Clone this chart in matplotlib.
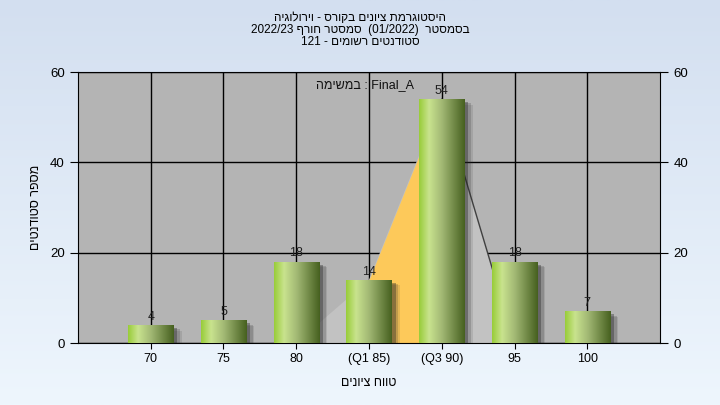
import numpy as np
import matplotlib
matplotlib.use("Agg")
import matplotlib.pyplot as plt
import matplotlib.patheffects as pe
from matplotlib.colors import LinearSegmentedColormap

plt.rcParams['font.family'] = ['Liberation Sans', 'DejaVu Sans']

# data
categories = ['70', '75', '80', '(Q1 85)', '(Q3 90)', '95', '100']
counts = [4, 5, 18, 14, 54, 18, 7]
# distribution shape behind the bars (category index, value)
shape_idx = [2, 3, 4, 5]
shape_val = [0, 14, 54, 0]
# inter-quartile part of it
iqr_idx = [3, 4]
iqr_val = [14, 54]


def heb(s):
    # matplotlib has no bidi, so flip hebrew runs by hand
    return s[::-1]


title_lines = [
    heb('היסטוגרמת ציונים בקורס - וירולוגיה'),
    '2022/23 ' + heb('סמסטר חורף') + '  (01/2022)  ' + heb('בסמסטר'),
    '121 - ' + heb('סטודנטים רשומים'),
]
task_label = heb('במשימה') + ' : Final_A'
xlabel = heb('טווח ציונים')
ylabel = heb('מספר סטודנטים')

fig = plt.figure(figsize=(7.2, 4.05), dpi=100)

# background gradient
bg = fig.add_axes([0, 0, 1, 1], zorder=-10)
grad = np.linspace(0, 1, 256).reshape(-1, 1)
bg_cmap = LinearSegmentedColormap.from_list('bg', ['#d3dff0', '#eef6fd'])
bg.imshow(grad, aspect='auto', cmap=bg_cmap, extent=[0, 1, 0, 1])
bg.axis('off')

ax = fig.add_axes([0.1083, 0.153, 0.8084, 0.669])
ax.set_facecolor('#b4b4b4')
x = np.arange(len(categories))

ax.set_xlim(-1, 7)
ax.set_ylim(0, 60)
ax.set_yticks([0, 20, 40, 60])
ax.set_xticks(x)
ax.set_xticklabels(categories, fontsize=9)
ax.tick_params(axis='y', labelsize=9.5, right=True, labelright=True, length=6, color='black')
ax.tick_params(axis='x', length=4)
ax.grid(True, color='black', linewidth=1)
ax.set_axisbelow(True)
for sp in ax.spines.values():
    sp.set_color('black')

# shape + iqr
ax.fill(shape_idx, shape_val, color='#c2c2c2', zorder=1.5, linewidth=0)
ax.fill_between(iqr_idx, 0, iqr_val, color='#fdc95a', zorder=1.6, linewidth=0)
ax.plot(shape_idx[-2:], shape_val[-2:], color='#404040', linewidth=1, zorder=1.7)

# bars with cylinder gradient
bar_cmap = LinearSegmentedColormap.from_list(
    'cyl', [(0, '#98cc38'), (0.22, '#c9e38e'), (0.5, '#a2b874'), (1, '#46601f')])
shadow = [pe.SimplePatchShadow(offset=(6, -4), shadow_rgbFace='#303030', alpha=0.12),
          pe.SimplePatchShadow(offset=(5, -3), shadow_rgbFace='#303030', alpha=0.2),
          pe.SimplePatchShadow(offset=(3, -2), shadow_rgbFace='#202020', alpha=0.35),
          pe.Normal()]
bars = ax.bar(x, counts, width=0.62, color='#8aa848', zorder=3, path_effects=shadow)
hgrad = np.linspace(0, 1, 256).reshape(1, -1)
for b in bars:
    x0, y0 = b.get_x(), b.get_y()
    im = ax.imshow(hgrad, aspect='auto', cmap=bar_cmap,
                   extent=[x0, x0 + b.get_width(), y0, y0 + b.get_height()], zorder=3.1)
    im.set_clip_path(b)
ax.set_xlim(-1, 7)
ax.set_ylim(0, 60)

for xi, v in zip(x, counts):
    ax.text(xi, v + 0.5, str(v), ha='center', va='bottom', fontsize=9, color='#202020', zorder=5)

ax.text(2.95, 57.2, task_label, ha='center', va='center', fontsize=9, color='#101010', zorder=5)

ax.set_xlabel(xlabel, fontsize=9, labelpad=8)
ax.set_ylabel(ylabel, fontsize=9, labelpad=6)

for i, line in enumerate(title_lines):
    fig.text(0.5, 1 - (18 + 12 * i) / 405, line, ha='center', va='center', fontsize=8.5)

fig.savefig('out.png', dpi=100)
